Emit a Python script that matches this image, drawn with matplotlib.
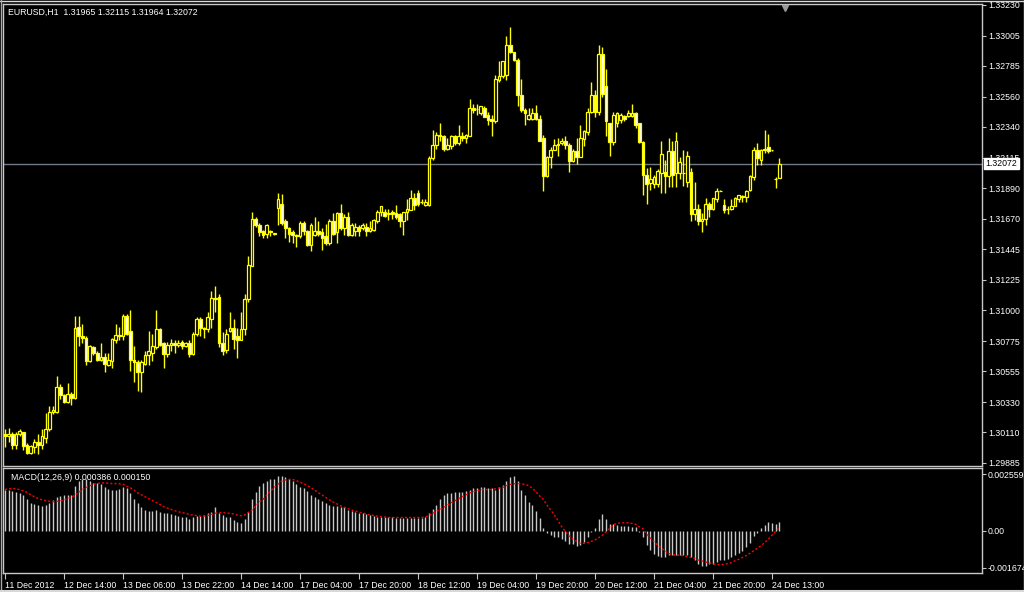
import matplotlib
matplotlib.use("Agg")
import matplotlib.pyplot as plt
from matplotlib.lines import Line2D

plt.rcParams['font.family'] = ['Liberation Sans', 'DejaVu Sans']

symbol_title = "EURUSD,H1  1.31965 1.32115 1.31964 1.32072"
macd_title = "MACD(12,26,9) 0.000386 0.000150"
last_price = 1.32072

# hourly candles, 11 Dec 22:00 .. 24 Dec 15:00
opens = [
    1.3010, 1.3008, 1.3010, 1.3002, 1.3010, 1.3011, 1.3002, 1.2996, 1.3000, 1.3004,
    1.3002, 1.3007, 1.3013, 1.3026, 1.3026, 1.3044, 1.3038, 1.3033, 1.3039, 1.3036,
    1.3088, 1.3081, 1.3080, 1.3063, 1.3073, 1.3069, 1.3064, 1.3066, 1.3060, 1.3063,
    1.3078, 1.3082, 1.3081, 1.3096, 1.3085, 1.3064, 1.3062, 1.3055, 1.3061, 1.3067,
    1.3069, 1.3073, 1.3086, 1.3076, 1.3068, 1.3075, 1.3076, 1.3075, 1.3077, 1.3074,
    1.3076, 1.3068, 1.3083, 1.3094, 1.3087, 1.3086, 1.3094, 1.3109, 1.3110, 1.3076,
    1.3071, 1.3085, 1.3087, 1.3081, 1.3078, 1.3086, 1.3108, 1.3132, 1.3167, 1.3162,
    1.3158, 1.3156, 1.3158, 1.3156, 1.3175, 1.3178, 1.3165, 1.3160, 1.3157, 1.3155,
    1.3154, 1.3164, 1.3158, 1.3148, 1.3155, 1.3158, 1.3157, 1.3154, 1.3149, 1.3165,
    1.3157, 1.3171, 1.3160, 1.3168, 1.3155, 1.3158, 1.3161, 1.3160, 1.3161, 1.3158,
    1.3159, 1.3165, 1.3172, 1.3172, 1.3170, 1.3172, 1.3171, 1.3170, 1.3165, 1.3172,
    1.3173, 1.3182, 1.3186, 1.3179, 1.3177, 1.3177, 1.3211, 1.3221, 1.3228, 1.3227,
    1.3218, 1.3220, 1.3227, 1.3222, 1.3227, 1.3226, 1.3227, 1.3248, 1.3247, 1.3244,
    1.3248, 1.3243, 1.3240, 1.3238, 1.3268, 1.3271, 1.3272, 1.3294, 1.3289, 1.3283,
    1.3257, 1.3246, 1.3240, 1.3240, 1.3244, 1.3240, 1.3226, 1.3198, 1.3212, 1.3217,
    1.3221, 1.3222, 1.3224, 1.3221, 1.3209, 1.3216, 1.3212, 1.3225, 1.3230, 1.3245,
    1.3257, 1.3245, 1.3287, 1.3264, 1.3237, 1.3223, 1.3237, 1.3239, 1.3242, 1.3242,
    1.3242, 1.3244, 1.3237, 1.3223, 1.3199, 1.3193, 1.3192, 1.3192, 1.3200, 1.3201,
    1.3198, 1.3216, 1.3200, 1.3200, 1.3200, 1.3194, 1.3201, 1.3170, 1.3174, 1.3165,
    1.3167, 1.3178, 1.3174, 1.3181, 1.3187, 1.3177, 1.3174, 1.3174, 1.3176, 1.3181,
    1.3183, 1.3183, 1.3188, 1.3197, 1.3217, 1.3210, 1.3217, 1.3219, 1.3217, 1.3196,
    1.31965,
]
highs = [
    1.3013, 1.3014, 1.3011, 1.3011, 1.3013, 1.3011, 1.3003, 1.3002, 1.3006, 1.3010,
    1.3013, 1.3025, 1.3030, 1.3030, 1.3052, 1.3046, 1.3039, 1.3047, 1.3040, 1.3096,
    1.3096, 1.3090, 1.3081, 1.3075, 1.3074, 1.3070, 1.3076, 1.3069, 1.3069, 1.3080,
    1.3090, 1.3088, 1.3097, 1.3097, 1.3100, 1.3074, 1.3064, 1.3064, 1.3070, 1.3085,
    1.3083, 1.3100, 1.3087, 1.3077, 1.3077, 1.3079, 1.3078, 1.3078, 1.3078, 1.3077,
    1.3078, 1.3084, 1.3095, 1.3095, 1.3088, 1.3099, 1.3114, 1.3118, 1.3112, 1.3084,
    1.3086, 1.3099, 1.3094, 1.3087, 1.3099, 1.3112, 1.3140, 1.3172, 1.3168, 1.3164,
    1.3159, 1.3163, 1.3159, 1.3156, 1.3186, 1.3185, 1.3167, 1.3161, 1.3159, 1.3156,
    1.3165, 1.3165, 1.3159, 1.3164, 1.3168, 1.3165, 1.3160, 1.3163, 1.3167, 1.3171,
    1.3172, 1.3178, 1.3170, 1.3172, 1.3164, 1.3164, 1.3162, 1.3164, 1.3164, 1.3165,
    1.3167, 1.3173, 1.3176, 1.3174, 1.3174, 1.3173, 1.3177, 1.3171, 1.3172, 1.3181,
    1.3188, 1.3186, 1.3188, 1.3181, 1.3181, 1.3213, 1.3232, 1.3230, 1.3237, 1.3228,
    1.3226, 1.3228, 1.3228, 1.3235, 1.3230, 1.3229, 1.3254, 1.3251, 1.3251, 1.3249,
    1.3249, 1.3245, 1.3243, 1.3272, 1.3282, 1.3282, 1.3300, 1.3307, 1.3289, 1.3284,
    1.3269, 1.3248, 1.3248, 1.3248, 1.3250, 1.3243, 1.3228, 1.3213, 1.3219, 1.3225,
    1.3226, 1.3226, 1.3227, 1.3222, 1.3218, 1.3226, 1.3235, 1.3232, 1.3248, 1.3267,
    1.3261, 1.3294, 1.3292, 1.3276, 1.3237, 1.3245, 1.3245, 1.3244, 1.3243, 1.3246,
    1.3251, 1.3245, 1.3237, 1.3224, 1.3204, 1.3205, 1.3199, 1.3203, 1.3224, 1.3210,
    1.3226, 1.3224, 1.3230, 1.3212, 1.3217, 1.3216, 1.3204, 1.3194, 1.3178, 1.3171,
    1.3182, 1.3179, 1.3182, 1.3189, 1.3188, 1.3181, 1.3176, 1.3181, 1.3183, 1.3184,
    1.3184, 1.3188, 1.3199, 1.3219, 1.3222, 1.3218, 1.3232, 1.3229, 1.3217, 1.3197,
    1.32115,
]
lows = [
    1.3000, 1.3004, 1.2999, 1.2999, 1.3008, 1.2998, 1.2995, 1.2995, 1.2996, 1.2995,
    1.2999, 1.3003, 1.3012, 1.3024, 1.3025, 1.3035, 1.3032, 1.3032, 1.3031, 1.3035,
    1.3074, 1.3076, 1.3060, 1.3062, 1.3067, 1.3063, 1.3063, 1.3055, 1.3059, 1.3058,
    1.3076, 1.3078, 1.3078, 1.3082, 1.3056, 1.3048, 1.3041, 1.3040, 1.3060, 1.3060,
    1.3063, 1.3072, 1.3074, 1.3058, 1.3066, 1.3070, 1.3069, 1.3073, 1.3072, 1.3073,
    1.3066, 1.3067, 1.3081, 1.3081, 1.3080, 1.3084, 1.3087, 1.3099, 1.3073, 1.3067,
    1.3069, 1.3084, 1.3072, 1.3065, 1.3078, 1.3082, 1.3106, 1.3132, 1.3161, 1.3154,
    1.3153, 1.3153, 1.3154, 1.3155, 1.3162, 1.3162, 1.3153, 1.3150, 1.3149, 1.3146,
    1.3153, 1.3155, 1.3147, 1.3143, 1.3154, 1.3154, 1.3144, 1.3148, 1.3148, 1.3155,
    1.3149, 1.3159, 1.3155, 1.3154, 1.3154, 1.3154, 1.3154, 1.3159, 1.3154, 1.3157,
    1.3158, 1.3164, 1.3169, 1.3168, 1.3166, 1.3167, 1.3167, 1.3161, 1.3155, 1.3166,
    1.3173, 1.3173, 1.3176, 1.3178, 1.3176, 1.3176, 1.3210, 1.3218, 1.3224, 1.3216,
    1.3217, 1.3218, 1.3221, 1.3221, 1.3224, 1.3222, 1.3227, 1.3244, 1.3243, 1.3243,
    1.3241, 1.3235, 1.3227, 1.3237, 1.3267, 1.3270, 1.3268, 1.3288, 1.3282, 1.3249,
    1.3245, 1.3235, 1.3239, 1.3239, 1.3239, 1.3224, 1.3187, 1.3197, 1.3204, 1.3217,
    1.3213, 1.3221, 1.3218, 1.3201, 1.3208, 1.3207, 1.3212, 1.3220, 1.3228, 1.3244,
    1.3241, 1.3243, 1.3256, 1.3227, 1.3213, 1.3221, 1.3234, 1.3237, 1.3238, 1.3241,
    1.3241, 1.3233, 1.3222, 1.3184, 1.3178, 1.3188, 1.3189, 1.3190, 1.3186, 1.3186,
    1.3190, 1.3190, 1.3190, 1.3196, 1.3191, 1.3190, 1.3165, 1.3166, 1.3162, 1.3157,
    1.3162, 1.3168, 1.3173, 1.3179, 1.3187, 1.3171, 1.3170, 1.3173, 1.3176, 1.3179,
    1.3179, 1.3179, 1.3187, 1.3195, 1.3206, 1.3206, 1.3215, 1.3215, 1.3216, 1.3189,
    1.31964,
]
closes = [
    1.3008, 1.3010, 1.3002, 1.3010, 1.3012, 1.3001, 1.2996, 1.3001, 1.3004, 1.3002,
    1.3008, 1.3013, 1.3026, 1.3027, 1.3044, 1.3038, 1.3033, 1.3039, 1.3036, 1.3087,
    1.3081, 1.3080, 1.3063, 1.3074, 1.3069, 1.3064, 1.3066, 1.3061, 1.3064, 1.3079,
    1.3082, 1.3081, 1.3096, 1.3083, 1.3064, 1.3062, 1.3055, 1.3062, 1.3067, 1.3070,
    1.3074, 1.3086, 1.3075, 1.3068, 1.3075, 1.3076, 1.3075, 1.3076, 1.3074, 1.3076,
    1.3068, 1.3083, 1.3094, 1.3087, 1.3086, 1.3095, 1.3109, 1.3108, 1.3076, 1.3070,
    1.3083, 1.3087, 1.3079, 1.3078, 1.3086, 1.3108, 1.3133, 1.3167, 1.3162, 1.3157,
    1.3155, 1.3162, 1.3157, 1.3156, 1.3181, 1.3164, 1.3160, 1.3156, 1.3155, 1.3154,
    1.3164, 1.3158, 1.3148, 1.3162, 1.3158, 1.3156, 1.3153, 1.3149, 1.3165, 1.3156,
    1.3171, 1.3160, 1.3168, 1.3155, 1.3162, 1.3161, 1.3158, 1.3162, 1.3158, 1.3160,
    1.3166, 1.3172, 1.3176, 1.3169, 1.3171, 1.3170, 1.3168, 1.3165, 1.3172, 1.3174,
    1.3182, 1.3177, 1.3178, 1.3179, 1.3179, 1.3211, 1.3221, 1.3228, 1.3227, 1.3218,
    1.3221, 1.3227, 1.3222, 1.3227, 1.3226, 1.3228, 1.3248, 1.3246, 1.3247, 1.3249,
    1.3241, 1.3239, 1.3238, 1.3269, 1.3271, 1.3282, 1.3294, 1.3289, 1.3283, 1.3257,
    1.3246, 1.3244, 1.3243, 1.3244, 1.3240, 1.3224, 1.3198, 1.3212, 1.3217, 1.3221,
    1.3221, 1.3224, 1.3221, 1.3209, 1.3216, 1.3212, 1.3226, 1.3231, 1.3245, 1.3257,
    1.3245, 1.3287, 1.3258, 1.3238, 1.3223, 1.3243, 1.3244, 1.3243, 1.3240, 1.3244,
    1.3244, 1.3235, 1.3223, 1.3199, 1.3192, 1.3196, 1.3197, 1.3202, 1.3214, 1.3198,
    1.3216, 1.3199, 1.3224, 1.3208, 1.3200, 1.3213, 1.3170, 1.3174, 1.3165, 1.3167,
    1.3178, 1.3174, 1.3182, 1.3187, 1.3187, 1.3173, 1.3174, 1.3176, 1.3182, 1.3184,
    1.3183, 1.3187, 1.3198, 1.3217, 1.3211, 1.3217, 1.3218, 1.3216, 1.3217, 1.3196,
    1.32072,
]

macd_main = [
    0.00187, 0.00184, 0.00181, 0.00177, 0.00172, 0.00162, 0.00142, 0.00127, 0.00121, 0.00115,
    0.00112, 0.00116, 0.00127, 0.00139, 0.00151, 0.00157, 0.00160, 0.00162, 0.00162, 0.00202,
    0.00227, 0.00237, 0.00233, 0.00227, 0.00217, 0.00217, 0.00211, 0.00199, 0.00190, 0.00187,
    0.00187, 0.00190, 0.00199, 0.00192, 0.00172, 0.00146, 0.00124, 0.00106, 0.00094, 0.00091,
    0.00091, 0.00094, 0.00086, 0.00082, 0.00079, 0.00076, 0.00071, 0.00066, 0.00063, 0.00060,
    0.00051, 0.00060, 0.00066, 0.00066, 0.00071, 0.00079, 0.00086, 0.00106, 0.00079, 0.00071,
    0.00063, 0.00060, 0.00048, 0.00041, 0.00036, 0.00051, 0.00086, 0.00142, 0.00177, 0.00202,
    0.00217, 0.00227, 0.00233, 0.00233, 0.00248, 0.00248, 0.00242, 0.00233, 0.00227, 0.00211,
    0.00199, 0.00196, 0.00181, 0.00162, 0.00154, 0.00142, 0.00136, 0.00127, 0.00116, 0.00112,
    0.00112, 0.00109, 0.00106, 0.00094, 0.00091, 0.00086, 0.00082, 0.00079, 0.00076, 0.00071,
    0.00066, 0.00063, 0.00060, 0.00060, 0.00060, 0.00060, 0.00056, 0.00056, 0.00056, 0.00056,
    0.00056, 0.00056, 0.00056, 0.00056, 0.00060, 0.00082, 0.00097, 0.00116, 0.00142, 0.00162,
    0.00169, 0.00172, 0.00175, 0.00175, 0.00177, 0.00181, 0.00187, 0.00192, 0.00196, 0.00199,
    0.00199, 0.00196, 0.00192, 0.00187, 0.00199, 0.00207, 0.00227, 0.00245, 0.00248, 0.00227,
    0.00187, 0.00162, 0.00131, 0.00116, 0.00091, 0.00056, 0.00011, -0.00009, -0.00020, -0.00030,
    -0.00030, -0.00039, -0.00045, -0.00060, -0.00060, -0.00069, -0.00065, -0.00050, -0.00030, -0.00005,
    0.00011, 0.00051, 0.00076, 0.00051, 0.00030, 0.00030, 0.00026, 0.00021, 0.00021, 0.00021,
    0.00018, 0.00018, -0.00005, -0.00030, -0.00065, -0.00088, -0.00106, -0.00115, -0.00118, -0.00121,
    -0.00110, -0.00110, -0.00110, -0.00110, -0.00110, -0.00110, -0.00121, -0.00133, -0.00151, -0.00160,
    -0.00160, -0.00151, -0.00151, -0.00140, -0.00133, -0.00133, -0.00130, -0.00118, -0.00110, -0.00100,
    -0.00091, -0.00076, -0.00054, -0.00024, -0.00009, 0.00011, 0.00026, 0.00041, 0.00036, 0.00030,
    0.000386,
]
macd_signal = [
    0.00187, 0.00190, 0.00192, 0.00190, 0.00186, 0.00181, 0.00174, 0.00163, 0.00154, 0.00146,
    0.00140, 0.00137, 0.00134, 0.00131, 0.00133, 0.00136, 0.00140, 0.00146, 0.00151, 0.00162,
    0.00174, 0.00187, 0.00196, 0.00204, 0.00211, 0.00214, 0.00217, 0.00217, 0.00216, 0.00214,
    0.00214, 0.00213, 0.00211, 0.00202, 0.00195, 0.00184, 0.00172, 0.00163, 0.00154, 0.00145,
    0.00137, 0.00128, 0.00119, 0.00109, 0.00103, 0.00097, 0.00091, 0.00086, 0.00082, 0.00079,
    0.00074, 0.00071, 0.00068, 0.00066, 0.00066, 0.00069, 0.00074, 0.00079, 0.00082, 0.00082,
    0.00080, 0.00079, 0.00076, 0.00071, 0.00068, 0.00071, 0.00083, 0.00094, 0.00112, 0.00131,
    0.00142, 0.00162, 0.00181, 0.00196, 0.00211, 0.00225, 0.00230, 0.00233, 0.00233, 0.00227,
    0.00220, 0.00214, 0.00205, 0.00195, 0.00184, 0.00172, 0.00162, 0.00151, 0.00140, 0.00130,
    0.00122, 0.00113, 0.00106, 0.00100, 0.00094, 0.00089, 0.00085, 0.00080, 0.00076, 0.00071,
    0.00069, 0.00066, 0.00063, 0.00062, 0.00060, 0.00060, 0.00060, 0.00060, 0.00060, 0.00060,
    0.00060, 0.00060, 0.00060, 0.00060, 0.00063, 0.00069, 0.00079, 0.00088, 0.00097, 0.00106,
    0.00116, 0.00127, 0.00136, 0.00145, 0.00154, 0.00163, 0.00171, 0.00177, 0.00181, 0.00186,
    0.00187, 0.00187, 0.00187, 0.00190, 0.00193, 0.00196, 0.00205, 0.00210, 0.00213, 0.00214,
    0.00213, 0.00210, 0.00205, 0.00193, 0.00177, 0.00157, 0.00142, 0.00116, 0.00094, 0.00071,
    0.00045, 0.00018, -0.00005, -0.00024, -0.00039, -0.00048, -0.00057, -0.00057, -0.00054, -0.00048,
    -0.00042, -0.00032, -0.00021, -0.00005, 0.00011, 0.00027, 0.00033, 0.00036, 0.00036, 0.00036,
    0.00033, 0.00029, 0.00018, 0.00009, -0.00015, -0.00033, -0.00050, -0.00065, -0.00080, -0.00092,
    -0.00103, -0.00109, -0.00110, -0.00112, -0.00113, -0.00118, -0.00121, -0.00125, -0.00133, -0.00137,
    -0.00142, -0.00146, -0.00151, -0.00153, -0.00154, -0.00153, -0.00149, -0.00145, -0.00136, -0.00130,
    -0.00121, -0.00113, -0.00103, -0.00091, -0.00080, -0.00068, -0.00054, -0.00039, -0.00020, -0.00003,
    0.00015,
]

time_labels = ["11 Dec 2012", "12 Dec 14:00", "13 Dec 06:00", "13 Dec 22:00", "14 Dec 14:00",
               "17 Dec 04:00", "17 Dec 20:00", "18 Dec 12:00", "19 Dec 04:00", "19 Dec 20:00",
               "20 Dec 12:00", "21 Dec 04:00", "21 Dec 20:00", "24 Dec 13:00"]
time_label_bars = [0, 16, 32, 48, 64, 80, 96, 112, 128, 144, 160, 176, 192, 208]

price_ticks = [1.33230, 1.33005, 1.32785, 1.32560, 1.32340, 1.32115, 1.31890, 1.31670,
               1.31445, 1.31225, 1.31000, 1.30775, 1.30555, 1.30330, 1.30110, 1.29885]
macd_ticks = [0.002559, 0.0, -0.001674]
macd_tick_labels = ["0.002559", "0.00", "-0.001674"]

frame = '#c8c8c8'
yellow = '#ffff00'
fs = 6.3

fig = plt.figure(figsize=(10.24, 5.92), dpi=100, facecolor='black')
W, H = 1024.0, 592.0
ax = fig.add_axes([3 / W, 1 - 466 / H, 979 / W, 462 / H], facecolor='black')
ax2 = fig.add_axes([3 / W, 1 - 573 / H, 979 / W, 105 / H], facecolor='black')

n = len(closes)
xs = list(range(n))

# candles: bull = black body, bear = white body, yellow outline
ax.vlines(xs, lows, highs, color=yellow, lw=1.0, zorder=2)
for i in xs:
    o, c = opens[i], closes[i]
    bottom = min(o, c)
    height = max(abs(c - o), 0.000015)
    face = 'black' if c >= o else 'white'
    ax.bar(i, height, bottom=bottom, width=0.72, color=face, edgecolor=yellow,
           linewidth=0.9, zorder=3)

ax.axhline(last_price, color='#6f7a86', lw=1.0, zorder=1)

ax.set_xlim(-0.54, 264.95)
ax.set_ylim(1.29863, 1.33237)
ax.set_xticks([])
ax.yaxis.tick_right()
ax.set_yticks(price_ticks)
ax.set_yticklabels(["%.5f" % p for p in price_ticks])
ax.tick_params(axis='y', colors=frame, labelcolor='white', length=3, width=0.8,
               labelsize=fs, pad=1.2)
for sp in ax.spines.values():
    sp.set_color(frame)
    sp.set_linewidth(1.0)

ax.annotate("%.5f" % last_price, xy=(1, last_price), xycoords=('axes fraction', 'data'),
            xytext=(2.5, 0), textcoords='offset points', ha='left', va='center',
            fontsize=fs, color='black', zorder=10, annotation_clip=False,
            bbox=dict(boxstyle='square,pad=0.15', fc='white', ec='white'))

# chart shift marker
ax.plot([211.5], [1.33205], marker='v', color='#9a9a9a', markersize=4, clip_on=False, zorder=5)

fig.text(8 / W, 1 - 12 / H, symbol_title, color='white', fontsize=fs, va='center', ha='left')

# MACD window
ax2.vlines(xs, 0, macd_main, color='#c8c8c8', lw=1.0, zorder=2)
ax2.plot(xs, macd_signal, color='#ff0000', lw=1.0, linestyle=(0, (1.5, 1.5)), zorder=3)
ax2.set_xlim(-0.54, 264.95)
ax2.set_ylim(-0.00192, 0.002847)
ax2.yaxis.tick_right()
ax2.set_yticks(macd_ticks)
ax2.set_yticklabels(macd_tick_labels)
ax2.tick_params(axis='y', colors=frame, labelcolor='white', length=3, width=0.8,
                labelsize=fs, pad=1.2)
ax2.set_xticks(time_label_bars)
ax2.set_xticklabels(time_labels, ha='left')
ax2.tick_params(axis='x', colors=frame, labelcolor='white', length=4, width=0.8,
                labelsize=fs, pad=1.5)
for sp in ax2.spines.values():
    sp.set_color(frame)
    sp.set_linewidth(1.0)
ax2.text(8 / 979, 1 - 10 / 105, macd_title, transform=ax2.transAxes, color='white',
         fontsize=fs, va='center', ha='left')

# window border
fig.add_artist(Line2D([0, 1], [1 - 0.5 / H] * 2, color='#d8d8d8', lw=1, transform=fig.transFigure))
fig.add_artist(Line2D([0.5 / W] * 2, [0, 1], color='#a8a8a8', lw=1, transform=fig.transFigure))
fig.add_artist(Line2D([1 - 0.5 / W] * 2, [0, 1], color='#d8d8d8', lw=1, transform=fig.transFigure))
fig.add_artist(Line2D([0, 1], [1.5 / H] * 2, color='#d8d8d8', lw=1.5, transform=fig.transFigure))

fig.savefig("out.png", dpi=100, facecolor='black')
